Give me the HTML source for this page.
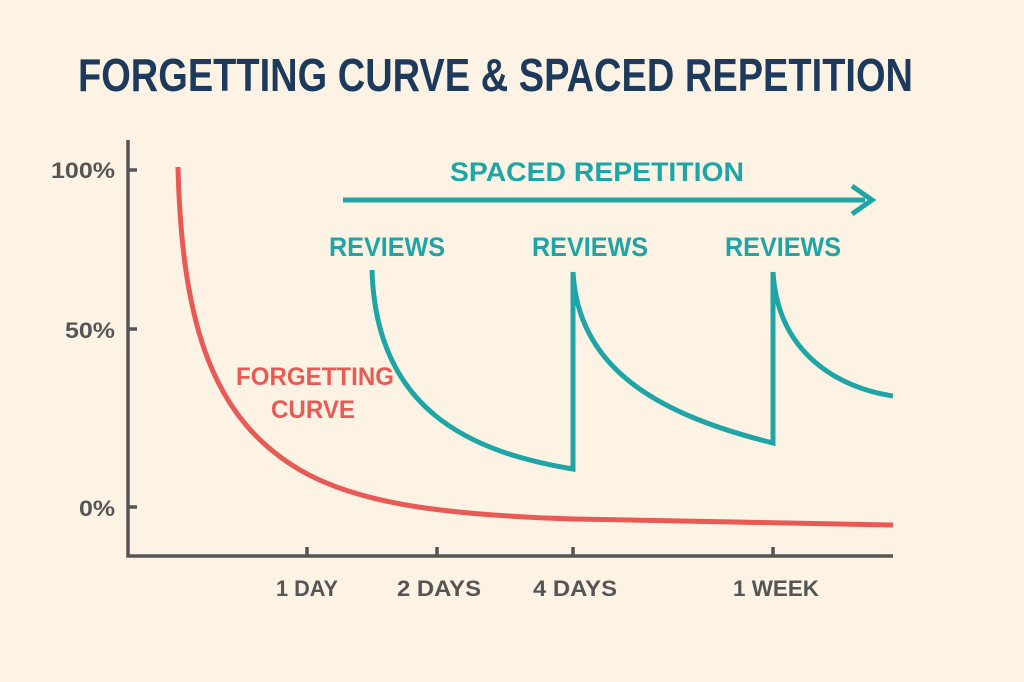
<!DOCTYPE html>
<html><head><style>html,body{margin:0;padding:0;background:#fcf3e4;}svg{display:block}</style></head>
<body>
<svg width="1024" height="682" viewBox="0 0 1024 682" xmlns="http://www.w3.org/2000/svg" font-family="Liberation Sans, sans-serif" font-weight="bold">
<rect width="1024" height="682" fill="#fcf3e4"/>
<text x="78" y="91" font-size="46" fill="#1d3a5c" textLength="835" lengthAdjust="spacingAndGlyphs">FORGETTING CURVE &amp; SPACED REPETITION</text>
<g stroke="#555" stroke-width="3.5" fill="none">
<path d="M128 140 V556 H893"/>
<path d="M128 170 H137 M128 329 H137 M128 507 H137"/>
<path d="M307 556 V547 M437 556 V547 M573 556 V547 M773 556 V547"/>
</g>
<g fill="#555" font-size="22">
<text x="115" y="178" text-anchor="end" textLength="64" lengthAdjust="spacingAndGlyphs">100%</text>
<text x="115" y="338" text-anchor="end" textLength="50" lengthAdjust="spacingAndGlyphs">50%</text>
<text x="115" y="516" text-anchor="end" textLength="36" lengthAdjust="spacingAndGlyphs">0%</text>
<text x="307" y="596" text-anchor="middle" textLength="62" lengthAdjust="spacingAndGlyphs">1 DAY</text>
<text x="439" y="596" text-anchor="middle" textLength="84" lengthAdjust="spacingAndGlyphs">2 DAYS</text>
<text x="575" y="596" text-anchor="middle" textLength="84" lengthAdjust="spacingAndGlyphs">4 DAYS</text>
<text x="776" y="596" text-anchor="middle" textLength="86" lengthAdjust="spacingAndGlyphs">1 WEEK</text>
</g>
<path d="M178 167 C182 330 215 420 300 470 C360 505 450 515 573 519 C700 522 800 524 893 525" stroke="#e85a55" stroke-width="5" fill="none"/>
<g fill="#e85a55" font-size="25">
<text x="315" y="385" text-anchor="middle" textLength="158" lengthAdjust="spacingAndGlyphs">FORGETTING</text>
<text x="313" y="418" text-anchor="middle" textLength="84" lengthAdjust="spacingAndGlyphs">CURVE</text>
</g>
<g stroke="#1fa5a5" stroke-width="5" fill="none">
<path d="M372 270 C376 410 470 452 573 469 V272 C578 370 660 415 773 443 V272 C778 355 840 388 893 396"/>
<path d="M343 200 H865"/>
<path d="M852 186 L872 200 L852 214" stroke-linejoin="miter"/>
</g>
<g fill="#1fa5a5" font-size="27">
<text x="597" y="181" text-anchor="middle" textLength="294" lengthAdjust="spacingAndGlyphs">SPACED REPETITION</text>
<text x="387" y="256" text-anchor="middle" textLength="116" lengthAdjust="spacingAndGlyphs">REVIEWS</text>
<text x="590" y="256" text-anchor="middle" textLength="116" lengthAdjust="spacingAndGlyphs">REVIEWS</text>
<text x="783" y="256" text-anchor="middle" textLength="116" lengthAdjust="spacingAndGlyphs">REVIEWS</text>
</g>
</svg>
</body></html>
